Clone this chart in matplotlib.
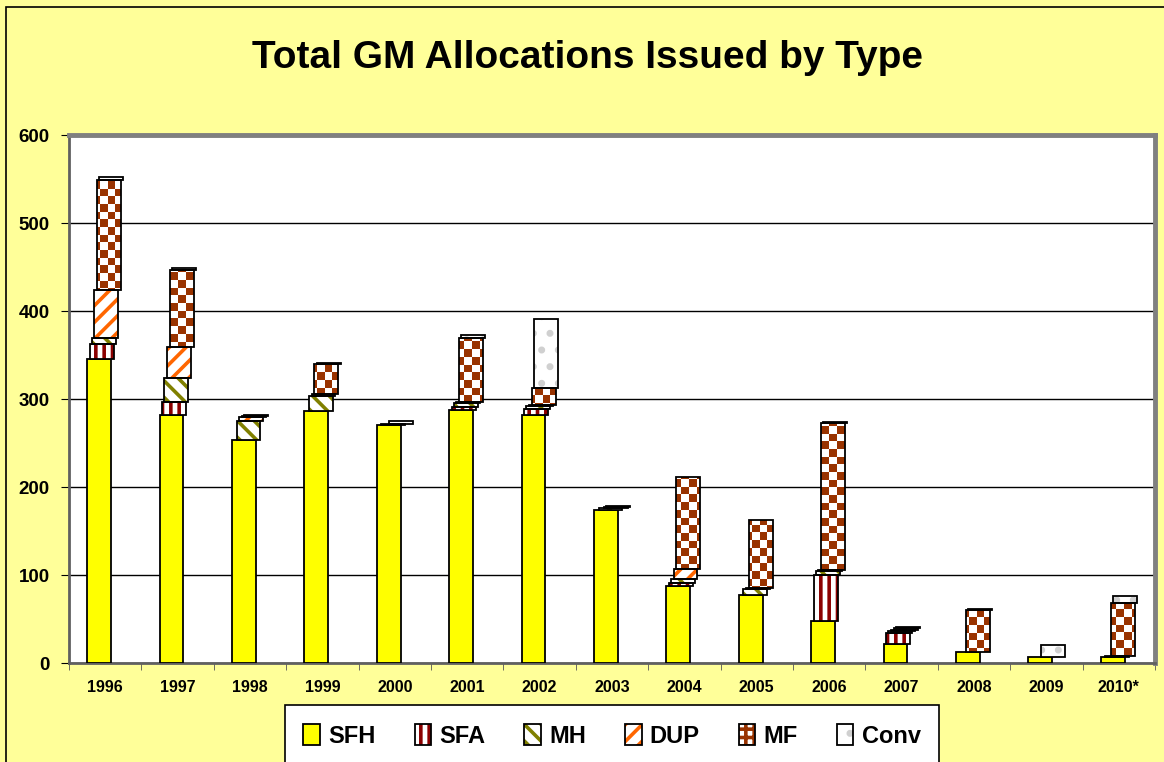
import numpy as np
import matplotlib
matplotlib.use("Agg")
import matplotlib.pyplot as plt
from matplotlib.patches import Patch, Rectangle
from matplotlib.legend_handler import HandlerTuple
from matplotlib.colors import ListedColormap

plt.rcParams["font.family"] = ["Liberation Sans", "DejaVu Sans"]
plt.rcParams["font.weight"] = "bold"
plt.rcParams["hatch.linewidth"] = 2.6

# data
years = ["1996", "1997", "1998", "1999", "2000", "2001", "2002", "2003",
         "2004", "2005", "2006", "2007", "2008", "2009", "2010*"]
sfh = [346, 282, 253, 286, 270, 287, 282, 174, 87, 77, 48, 22, 13, 7, 7]
sfa = [17, 15, 0, 0, 0, 4, 7, 0, 4, 0, 52, 12, 0, 0, 0]
mh = [6, 27, 22, 17, 2, 4, 3, 2, 5, 7, 5, 2, 0, 0, 1]
dup = [55, 35, 5, 3, 0, 2, 1, 0, 11, 1, 1, 2, 0, 0, 0]
mf = [125, 88, 1, 34, 0, 72, 20, 1, 104, 78, 167, 2, 47, 0, 60]
conv = [3, 2, 1, 1, 3, 4, 78, 1, 0, 0, 1, 1, 1, 14, 8]

names = ["SFH", "SFA", "MH", "DUP", "MF", "Conv"]
series = [sfh, sfa, mh, dup, mf, conv]

# fill, hatch colour, hatch
styles = [
    ("#ffff00", "#000000", None),
    ("#ffffff", "#8b0000", "||"),
    ("#ffffff", "#808000", "\\\\"),
    ("#ffffff", "#ff6600", "//"),
    ("#ffffff", "#993300", "checker"),
    ("#ffffff", "#d0d0d0", "."),
]
shift = [0.0, 0.04, 0.065, 0.1, 0.14, 0.17]
width = 0.33

fig = plt.figure(figsize=(11.64, 7.62), dpi=100)
fig.patch.set_facecolor("#ffff99")
fig.patches.append(Rectangle((6 / 1164, -0.05), 1.1, 1 - 7 / 762 + 0.05,
                             transform=fig.transFigure, fill=False,
                             edgecolor="black", lw=1.2))

ax = fig.add_axes([69 / 1164, 1 - 663 / 762, 1086 / 1164, 528 / 762])
ax.set_facecolor("white")
ax.set_xlim(-0.5, len(years) - 0.5)
ax.set_ylim(0, 600)

# checkerboard texture for MF
nx, ny = 140, 69
ii, jj = np.meshgrid(np.arange(nx), np.arange(ny))
checker = ((ii + jj) % 2).astype(float)
cmap_chk = ListedColormap(["#ffffff", "#993300"])

x = np.arange(len(years))
bottom = np.zeros(len(years))
handles = []
for k, (name, vals) in enumerate(zip(names, series)):
    face, hcol, hatch = styles[k]
    vals = np.array(vals, dtype=float)
    pos = x - 0.085 + shift[k]
    if hatch == "checker":
        bars = ax.bar(pos, vals, width, bottom=bottom, color="white",
                      edgecolor="none", zorder=3)
        for b, v in zip(bars, vals):
            if v <= 0:
                continue
            im = ax.imshow(checker, cmap=cmap_chk, extent=(-0.5, 14.5, 0, 600),
                           origin="lower", interpolation="nearest",
                           aspect="auto", zorder=3.5)
            im.set_clip_path(b)
        hpatch = Patch(facecolor="white", edgecolor="#993300", hatch="++", lw=0)
    elif hatch:
        ax.bar(pos, vals, width, bottom=bottom, color=face, edgecolor=hcol,
               hatch=hatch, lw=0, zorder=3)
        hpatch = Patch(facecolor=face, edgecolor=hcol, hatch=hatch, lw=0)
    else:
        hpatch = Patch(facecolor=face, edgecolor="none")
    mask = vals > 0
    ax.bar(pos[mask], vals[mask], width, bottom=bottom[mask],
           color=face if not hatch else "none", edgecolor="black", lw=1.3,
           zorder=4 if hatch else 3)
    opatch = Patch(facecolor="none", edgecolor="black", lw=1.3)
    handles.append((hpatch, opatch))
    bottom += vals

ax.set_ylim(0, 600)
ax.set_yticks(range(0, 601, 100))
ax.yaxis.grid(True, color="black", lw=1)
ax.set_axisbelow(True)
ax.set_xticks(x)
ax.set_xticklabels(years, fontsize=11.5, fontweight="bold")
ax.set_xticks(np.arange(-0.5, len(years)), minor=True)
ax.tick_params(axis="x", which="major", length=0, pad=12)
ax.tick_params(axis="x", which="minor", length=5, color="#555555")
ax.tick_params(axis="y", labelsize=13.5, length=6, pad=8)
for lab in ax.get_yticklabels():
    lab.set_fontweight("bold")

for s in ["top", "right"]:
    ax.spines[s].set_color("#808080")
    ax.spines[s].set_linewidth(3.5)
for s in ["left", "bottom"]:
    ax.spines[s].set_color("#606060")
    ax.spines[s].set_linewidth(2)

fig.text(588 / 1164, 1 - 58 / 762, "Total GM Allocations Issued by Type",
         ha="center", va="center", fontsize=28, fontweight="bold")

leg = fig.legend(handles, names, loc="upper center", ncol=6,
                 bbox_to_anchor=(612 / 1164, 1 - 705 / 762), borderaxespad=0,
                 handler_map={tuple: HandlerTuple(ndivide=1, pad=0)},
                 prop={"size": 17, "weight": "bold"}, frameon=True,
                 fancybox=False, edgecolor="black", facecolor="white",
                 framealpha=1, handlelength=0.7, handleheight=1.0,
                 handletextpad=0.35, columnspacing=1.65, borderpad=0.8)
leg.get_frame().set_linewidth(1.2)

fig.savefig("out.png", dpi=100, facecolor=fig.get_facecolor())
